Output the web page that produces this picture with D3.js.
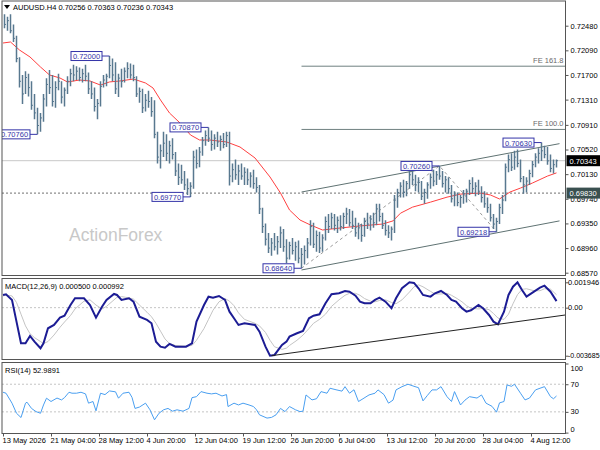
<!DOCTYPE html>
<html>
<head>
<meta charset="utf-8">
<script src="https://cdn.jsdelivr.net/npm/d3@7"></script>
<style>
body{margin:0;background:#fff;}
svg{display:block;font-family:"Liberation Sans",Arial,sans-serif;}
</style>
</head>
<body>
<svg width="600" height="450"></svg>
<script>
// price bars in pips (x10000), one bar drawn per two 4H bars (bar index 2k+1)
var barHi = [7266,7262,7266,7250,7232,7198,7170,7176,7172,7160,
  7140,7118,7110,7140,7165,7178,7170,7160,7172,7160,
  7150,7168,7180,7186,7184,7182,7180,7186,7174,7160,
  7150,7132,7160,7170,7172,7200,7196,7190,7172,7180,
  7182,7190,7188,7186,7168,7150,7148,7140,7145,7135,
  7130,7080,7060,7080,7076,7066,7070,7048,7030,7028,
  7018,7006,7000,7050,7052,7056,7072,7082,7087,7082,
  7076,7080,7074,7078,7080,7080,7030,7036,7028,7030,
  7024,7022,7016,7020,7008,6996,6960,6935,6920,6912,
  6920,6915,6930,6926,6910,6906,6912,6906,6908,6896,
  6900,6912,6940,6936,6924,6922,6918,6946,6950,6952,
  6950,6946,6948,6952,6960,6958,6955,6944,6936,6934,
  6944,6952,6948,6952,6966,6966,6952,6940,6932,6930,
  6980,6990,7000,7004,7002,7018,7022,7012,7008,7002,
  6990,7000,7014,7020,7018,7026,7018,7010,7008,6996,
  6986,6984,6980,6988,6990,7004,7008,7000,7004,6994,
  6986,6976,6966,6950,6944,6966,6980,7030,7044,7046,
  7050,7052,7036,7010,7008,7020,7034,7046,7054,7063,
  7058,7056,7044,7036,7036.3];
var barLo = [7244,7240,7236,7222,7190,7150,7124,7140,7136,7115,
  7100,7076,7080,7096,7120,7140,7120,7118,7146,7125,
  7120,7140,7152,7160,7162,7160,7158,7160,7140,7132,
  7112,7100,7120,7150,7152,7165,7160,7140,7135,7150,
  7158,7165,7164,7160,7135,7126,7110,7112,7118,7104,
  7070,7030,7022,7040,7034,7030,7036,7010,6996,6998,
  6988,6980,6977,6990,7022,7024,7042,7058,7064,7050,
  7052,7056,7050,7054,7056,6995,7000,7004,6996,7004,
  6996,6996,6992,6990,6984,6950,6920,6900,6888,6884,
  6892,6886,6896,6890,6872,6878,6886,6876,6872,6864,
  6870,6880,6900,6896,6890,6888,6890,6908,6920,6926,
  6924,6920,6924,6926,6934,6930,6926,6914,6910,6906,
  6914,6926,6924,6928,6932,6938,6926,6916,6912,6908,
  6920,6960,6976,6976,6978,6990,6996,6986,6984,6972,
  6966,6974,6990,6994,6996,7004,6992,6984,6982,6968,
  6962,6962,6960,6966,6968,6980,6982,6978,6980,6968,
  6960,6952,6938,6926,6921.8,6934,6950,6970,7016,7018,
  7020,7024,7000,6982,6984,6996,7008,7024,7030,7034,
  7038,7028,7016,7014,7023.6];
var barCl = [7250,7256,7240,7228,7196,7160,7140,7166,7150,7122,
  7110,7090,7102,7132,7155,7150,7128,7150,7160,7135,
  7146,7160,7172,7170,7176,7166,7172,7168,7148,7140,
  7120,7125,7152,7162,7168,7185,7170,7148,7165,7160,
  7176,7180,7170,7166,7140,7144,7118,7130,7128,7112,
  7076,7040,7050,7062,7046,7058,7044,7018,7008,7004,
  6996,6990,6994,7040,7030,7048,7066,7074,7070,7060,
  7070,7064,7068,7060,7074,7010,7020,7012,7018,7010,
  7016,7004,7010,6998,6992,6958,6930,6910,6896,6904,
  6898,6906,6920,6898,6880,6900,6892,6898,6880,6886,
  6892,6904,6930,6902,6916,6896,6912,6938,6930,6944,
  6932,6940,6930,6946,6950,6936,6932,6920,6928,6916,
  6938,6934,6942,6936,6958,6946,6932,6924,6920,6926,
  6972,6984,6994,6984,6998,7012,7004,6996,7000,6978,
  6984,6996,7008,7002,7012,7010,6998,7004,6990,6974,
  6980,6968,6976,6982,6986,6998,6990,6994,6986,6976,
  6966,6960,6944,6934,6938,6960,6972,7024,7036,7024,
  7040,7030,7006,6996,7002,7014,7028,7040,7046,7050,
  7044,7034,7022,7028,7034.3];

// red moving average (bar index, pips)
var maBar = [0,5,11,18,25,31,38,43,51,58,65,71,78,87,95,100,105,111,118,125,131,138,149,158,168,178,185,191,198,205,
  213,225,238,253,260,265,273,285,296,305,318,325,331,338,345,353,363,369];
var maVal = [7220.6,7222.2,7209.5,7198.5,7182.6,7170,7165.2,7158.9,7162,7160.5,7154,7159,7160.5,7163.6,7157.3,7149.4,
  7130.4,7109.8,7094,7075,7067.1,7067,7064,7056,7038.6,7008.5,6983.1,6956.3,6940.4,6932.5,6924.6,6927.8,6931,6934,
  6939,6951.2,6960.8,6968.7,6976.6,6981.4,6983,6980,6973.7,6984.7,6991,6999,7010,7015];

// MACD(12,26,9) main and signal, x1e-6
var macdBar = [0,2,6,9,12,15,18,21,25,27,30,34,38,41,45,48,54,58,62,66,69,74,76,79,84,87,91,96,99,102,
  105,108,111,115,122,126,129,134,137,140,144,148,151,154,157,161,168,171,175,178,181,186,189,191,196,200,204,207,211,215,
  219,224,228,231,235,238,241,245,248,251,255,259,262,266,271,274,277,280,285,288,292,296,299,302,306,309,312,317,320,324,
  327,330,334,337,340,343,346,349,354,358,361,365,369];
var macdVal = [974,1028,590,-1074,-2731,-2731,-2170,-2608,-3114,-2731,-1580,-1327,-767,-614,207,721,721,207,-767,77,
  590,1051,974,590,721,460,-690,-943,-1197,-2608,-2991,-3068,-2784,-2991,-2991,-2731,-1074,207,844,767,
  897,590,-307,-813,-1327,-1197,-1327,-1841,-2991,-3685,-3628,-2861,-2608,-2224,-1964,-1787,-813,-614,-506,337,
  1028,1104,1281,1227,920,460,337,337,590,767,460,-46,721,1488,1946,1900,1488,974,844,1104,
  1281,974,590,460,-46,-307,-200,207,-46,-560,-1074,-1273,-307,974,1611,1940,1358,844,1227,1534,1687,1227,500];
var sigVal = [900,960,900,400,-500,-1400,-2000,-2300,-2600,-2750,-2600,-2100,-1500,-1100,-600,-100,500,600,200,-100,
  100,600,800,850,750,650,200,-350,-700,-1200,-1800,-2400,-2750,-2900,-2950,-2900,-2500,-1600,-900,-200,
  450,700,500,150,-400,-900,-1200,-1400,-1900,-2500,-3000,-3200,-3100,-2900,-2500,-2100,-1600,-1200,-900,-500,
  100,600,950,1100,1100,950,700,500,450,550,600,400,300,600,1200,1600,1750,1600,1250,1050,
  1050,1100,950,750,450,150,-50,-100,-50,-150,-450,-800,-900,-500,300,1000,1400,1450,1300,1300,1450,1420,992];

// RSI(14)
var rsiBar = [0,2,6,9,12,15,16,19,22,25,27,29,32,36,39,41,44,46,49,52,55,57,60,62,65,68,71,75,77,80,
  84,86,88,91,95,98,101,104,107,110,113,116,120,124,126,129,132,136,139,142,146,149,150,154,157,160,164,167,169,171,
  176,179,182,185,188,191,195,198,200,202,206,209,212,216,218,222,226,228,231,234,237,240,244,248,250,254,257,260,262,266,
  270,274,277,280,283,286,289,292,296,299,301,305,308,311,316,319,322,326,329,331,334,336,339,341,345,348,351,355,358,361,
  365,367,369];
var rsiVal = [58.4,57,42.6,28,21.8,42.6,44,35,30.4,28,40,49.8,45,50,47.3,50.6,58.4,57,57,58.4,
  56,42.6,45,31.5,57,55,60.3,59,49.8,57,58.4,51,35,37,42.6,33,18.5,28,33,35,
  31,33,31,35,50.6,52,59.3,57,56,57,53,55,37.7,42.6,40,42.6,40,37.7,33,25.7,
  21,22,25.7,35,30.4,37.7,33,30.4,31,54.5,47.3,49,59.3,57,64.2,62,60,66.5,57,62,
  45,49,54.5,57,61.8,55,42.6,47,61.8,66.5,70,67,65,45.9,54,61.8,61.8,66.5,52,45,
  59.3,40,47,52,50,54.5,42.6,38,29.6,43,45,69,67,70,57,47.3,50,61.8,64.2,66.5,52,49,52.9891];

// swing labels
var fracVal = [0.72000,0.70760,0.70870,0.69770,0.68640,0.70260,0.69218,0.70630];
var fracBar = [71,23,137,125,199,291,329,359];
var zigBar = [199,291,329];
var zigVal = [0.68640,0.70260,0.69218];
var chanBar = [199,371];
var chanUp = [0.69847,0.70613];
var chanDn = [0.68613,0.69390];
var feVal = [0.71839,0.70838];
var feText = ["FE 161.8","FE 100.0"];
var feStart = 199;
var lastPrice = 0.70343;
var levelPrice = 0.69830;
var macdTrendBar = [179,375];
var macdTrendVal = [-3685,-560];

var priceTicks = [0.72480,0.72090,0.71700,0.71310,0.70910,0.70520,0.70130,0.69740,0.69350,0.68960,0.68570];
var macdTicks = [0.001946,0,-0.003685];
var macdTickText = ["0.001946","0.00","-0.003685"];
var rsiTicks = [100,70,30,0];
var dateBar = [0,32,64,96,128,160,192,224,256,288,320,352];
var dateText = ["13 May 2026","21 May 04:00","28 May 12:00","4 Jun 20:00","12 Jun 04:00","19 Jun 12:00",
  "26 Jun 20:00","6 Jul 04:00","13 Jul 12:00","20 Jul 20:00","28 Jul 04:00","4 Aug 12:00"];

var svg = d3.select("svg");
var left = 2, right = 565.5;
var x = d3.scaleLinear().domain([0, 375]).range([3, right]);
var yP = d3.scaleLinear().domain([0.68570, 0.72480]).range([272.7, 25.7]);
var yM = d3.scaleLinear().domain([-0.003685, 0.001946]).range([355.7, 282.3]);
var yR = d3.scaleLinear().domain([0, 100]).range([432.6, 363.5]);

var panels = [
  {id: "pMain", top: 1, bottom: 275.5},
  {id: "pMacd", top: 278.5, bottom: 359.5},
  {id: "pRsi", top: 362.5, bottom: 433.5}
];
var defs = svg.append("defs");
panels.forEach(p => {
  defs.append("clipPath").attr("id", p.id)
    .append("rect").attr("x", left).attr("y", p.top).attr("width", right - left).attr("height", p.bottom - p.top);
});

var gMain = svg.append("g").attr("clip-path", "url(#pMain)");
var gMacd = svg.append("g").attr("clip-path", "url(#pMacd)");
var gRsi = svg.append("g").attr("clip-path", "url(#pRsi)");

// watermark
gMain.append("text").attr("x", 69).attr("y", 241).attr("font-size", 17.5).attr("fill", "#c8c8c8").text("ActionForex");

// horizontal levels
gMain.append("line").attr("x1", left).attr("x2", right).attr("y1", yP(lastPrice)).attr("y2", yP(lastPrice))
  .attr("stroke", "#c8c8c8");
gMain.append("line").attr("x1", left).attr("x2", right).attr("y1", yP(levelPrice)).attr("y2", yP(levelPrice))
  .attr("stroke", "#707070").attr("stroke-dasharray", "2,2");
feVal.forEach((v, i) => {
  gMain.append("line").attr("x1", x(feStart)).attr("x2", right).attr("y1", yP(v)).attr("y2", yP(v))
    .attr("stroke", "#6f8080");
  gMain.append("text").attr("x", right - 2).attr("y", yP(v) - 3).attr("text-anchor", "end")
    .attr("font-size", 7.5).attr("fill", "#6a6a6a").text(feText[i]);
});

// channel and swing connectors
gMain.append("line").attr("x1", x(chanBar[0])).attr("x2", x(chanBar[1]))
  .attr("y1", yP(chanUp[0])).attr("y2", yP(chanUp[1])).attr("stroke", "#5f7272");
gMain.append("line").attr("x1", x(chanBar[0])).attr("x2", x(chanBar[1]))
  .attr("y1", yP(chanDn[0])).attr("y2", yP(chanDn[1])).attr("stroke", "#5f7272");
gMain.append("path")
  .attr("d", d3.line().x((d, i) => x(zigBar[i])).y(d => yP(d))(zigVal))
  .attr("fill", "none").attr("stroke", "#9a9a9a").attr("stroke-dasharray", "3,3");

// moving average
gMain.append("path")
  .attr("d", d3.line().x((d, i) => x(maBar[i])).y(d => yP(d / 10000))(maVal))
  .attr("fill", "none").attr("stroke", "#ff4040").attr("stroke-width", 1);

// bars
var bars = gMain.append("g").attr("stroke", "#58788f");
barHi.forEach((h, k) => {
  var bx = x(2 * k + 1);
  bars.append("line").attr("x1", bx).attr("x2", bx).attr("y1", yP(h / 10000)).attr("y2", yP(barLo[k] / 10000))
    .attr("stroke-width", 1.5);
  bars.append("line").attr("x1", bx).attr("x2", bx + 1.5).attr("y1", yP(barCl[k] / 10000)).attr("y2", yP(barCl[k] / 10000));
});

// swing value boxes
fracVal.forEach((v, i) => {
  var bx = x(fracBar[i]), by = yP(v), bw = 31, bh = 9;
  var x0 = bx - 7.5 - bw;
  gMain.append("line").attr("x1", x0 + bw).attr("x2", bx).attr("y1", by).attr("y2", by).attr("stroke", "#3434a8");
  gMain.append("rect").attr("x", x0).attr("y", by - bh / 2).attr("width", bw).attr("height", bh)
    .attr("fill", "#fff").attr("stroke", "#3434a8");
  gMain.append("text").attr("x", x0 + bw / 2).attr("y", by + 3).attr("text-anchor", "middle")
    .attr("font-size", 7.5).attr("fill", "#3434a8").text(d3.format(".5f")(v));
});

// MACD panel
gMacd.append("line").attr("x1", left).attr("x2", right).attr("y1", yM(0)).attr("y2", yM(0))
  .attr("stroke", "#c4c4c4").attr("stroke-dasharray", "2,2");
gMacd.append("path")
  .attr("d", d3.line().x((d, i) => x(macdBar[i])).y(d => yM(d / 1e6))(sigVal))
  .attr("fill", "none").attr("stroke", "#c4c4c4").attr("stroke-width", 1);
gMacd.append("path")
  .attr("d", d3.line().x((d, i) => x(macdBar[i])).y(d => yM(d / 1e6))(macdVal))
  .attr("fill", "none").attr("stroke", "#1c1c94").attr("stroke-width", 2);
gMacd.append("line").attr("x1", x(macdTrendBar[0])).attr("x2", x(macdTrendBar[1]))
  .attr("y1", yM(macdTrendVal[0] / 1e6)).attr("y2", yM(macdTrendVal[1] / 1e6)).attr("stroke", "#222");

// RSI panel
[70, 30].forEach(v => {
  gRsi.append("line").attr("x1", left).attr("x2", right).attr("y1", yR(v)).attr("y2", yR(v))
    .attr("stroke", "#c4c4c4").attr("stroke-dasharray", "2,2");
});
gRsi.append("path")
  .attr("d", d3.line().x((d, i) => x(rsiBar[i])).y(d => yR(d))(rsiVal))
  .attr("fill", "none").attr("stroke", "#4a9ff0").attr("stroke-width", 1);

// panel frames
panels.forEach(p => {
  svg.append("rect").attr("x", left).attr("y", p.top).attr("width", right - left).attr("height", p.bottom - p.top)
    .attr("fill", "none").attr("stroke", "#555");
});

// axes
function styleAxis(g) {
  g.select(".domain").remove();
  g.selectAll("text").attr("font-size", 7.5).attr("fill", "#000").attr("font-family", "Liberation Sans, Arial, sans-serif");
  g.selectAll("line").attr("stroke", "#555");
}
svg.append("g").attr("transform", "translate(" + right + ",0)")
  .call(d3.axisRight(yP).tickValues(priceTicks).tickSize(3).tickPadding(2).tickFormat(d3.format(".5f")))
  .call(styleAxis);

// MACD and RSI scale labels, kept inside their panels like the platform does
var mAx = svg.append("g").attr("transform", "translate(" + right + ",0)")
  .call(d3.axisRight(yM).tickValues(macdTicks).tickSize(3).tickFormat(""))
  .call(styleAxis);
macdTicks.forEach((v, i) => {
  svg.append("text").attr("x", right + 2.5).attr("y", yM(v) + 2.6)
    .attr("font-size", i == 2 ? 7 : 7.5).text(macdTickText[i]);
});
svg.append("g").attr("transform", "translate(" + right + ",0)")
  .call(d3.axisRight(yR).tickValues(rsiTicks).tickSize(3).tickFormat(""))
  .call(styleAxis);
rsiTicks.forEach(v => {
  var ty = v == 100 ? yR(v) + 7 : v == 0 ? yR(v) - 1 : yR(v) + 2.6;
  svg.append("text").attr("x", right + 5).attr("y", ty).attr("font-size", 7.5).text(v);
});

var dAx = svg.append("g").attr("transform", "translate(0,433.5)")
  .call(d3.axisBottom(x).tickValues(dateBar).tickSize(3).tickPadding(1).tickFormat((d, i) => dateText[i]))
  .call(styleAxis);
dAx.selectAll("text").attr("text-anchor", "start").attr("dx", "-1");

// price tags on the axis
[[lastPrice, "#000"], [levelPrice, "#3a5050"]].forEach(t => {
  svg.append("rect").attr("x", right + 1).attr("y", yP(t[0]) - 5.5).attr("width", 600 - right).attr("height", 11)
    .attr("fill", t[1]);
  svg.append("text").attr("x", right + 4).attr("y", yP(t[0]) + 3).attr("font-size", 7.5).attr("fill", "#fff")
    .text(d3.format(".5f")(t[0]));
});

// titles
svg.append("path").attr("d", "M4,5 L10,5 L7,9 Z").attr("fill", "#000");
svg.append("text").attr("x", 13).attr("y", 10).attr("font-size", 7.5).attr("fill", "#000")
  .text("AUDUSD.H4  0.70256 0.70363 0.70236 0.70343");
svg.append("text").attr("x", 5).attr("y", 289).attr("font-size", 7.5).attr("fill", "#000")
  .text("MACD(12,26,9) 0.000500 0.000992");
svg.append("text").attr("x", 5).attr("y", 373).attr("font-size", 7.5).attr("fill", "#000")
  .text("RSI(14) 52.9891");
</script>
</body>
</html>
